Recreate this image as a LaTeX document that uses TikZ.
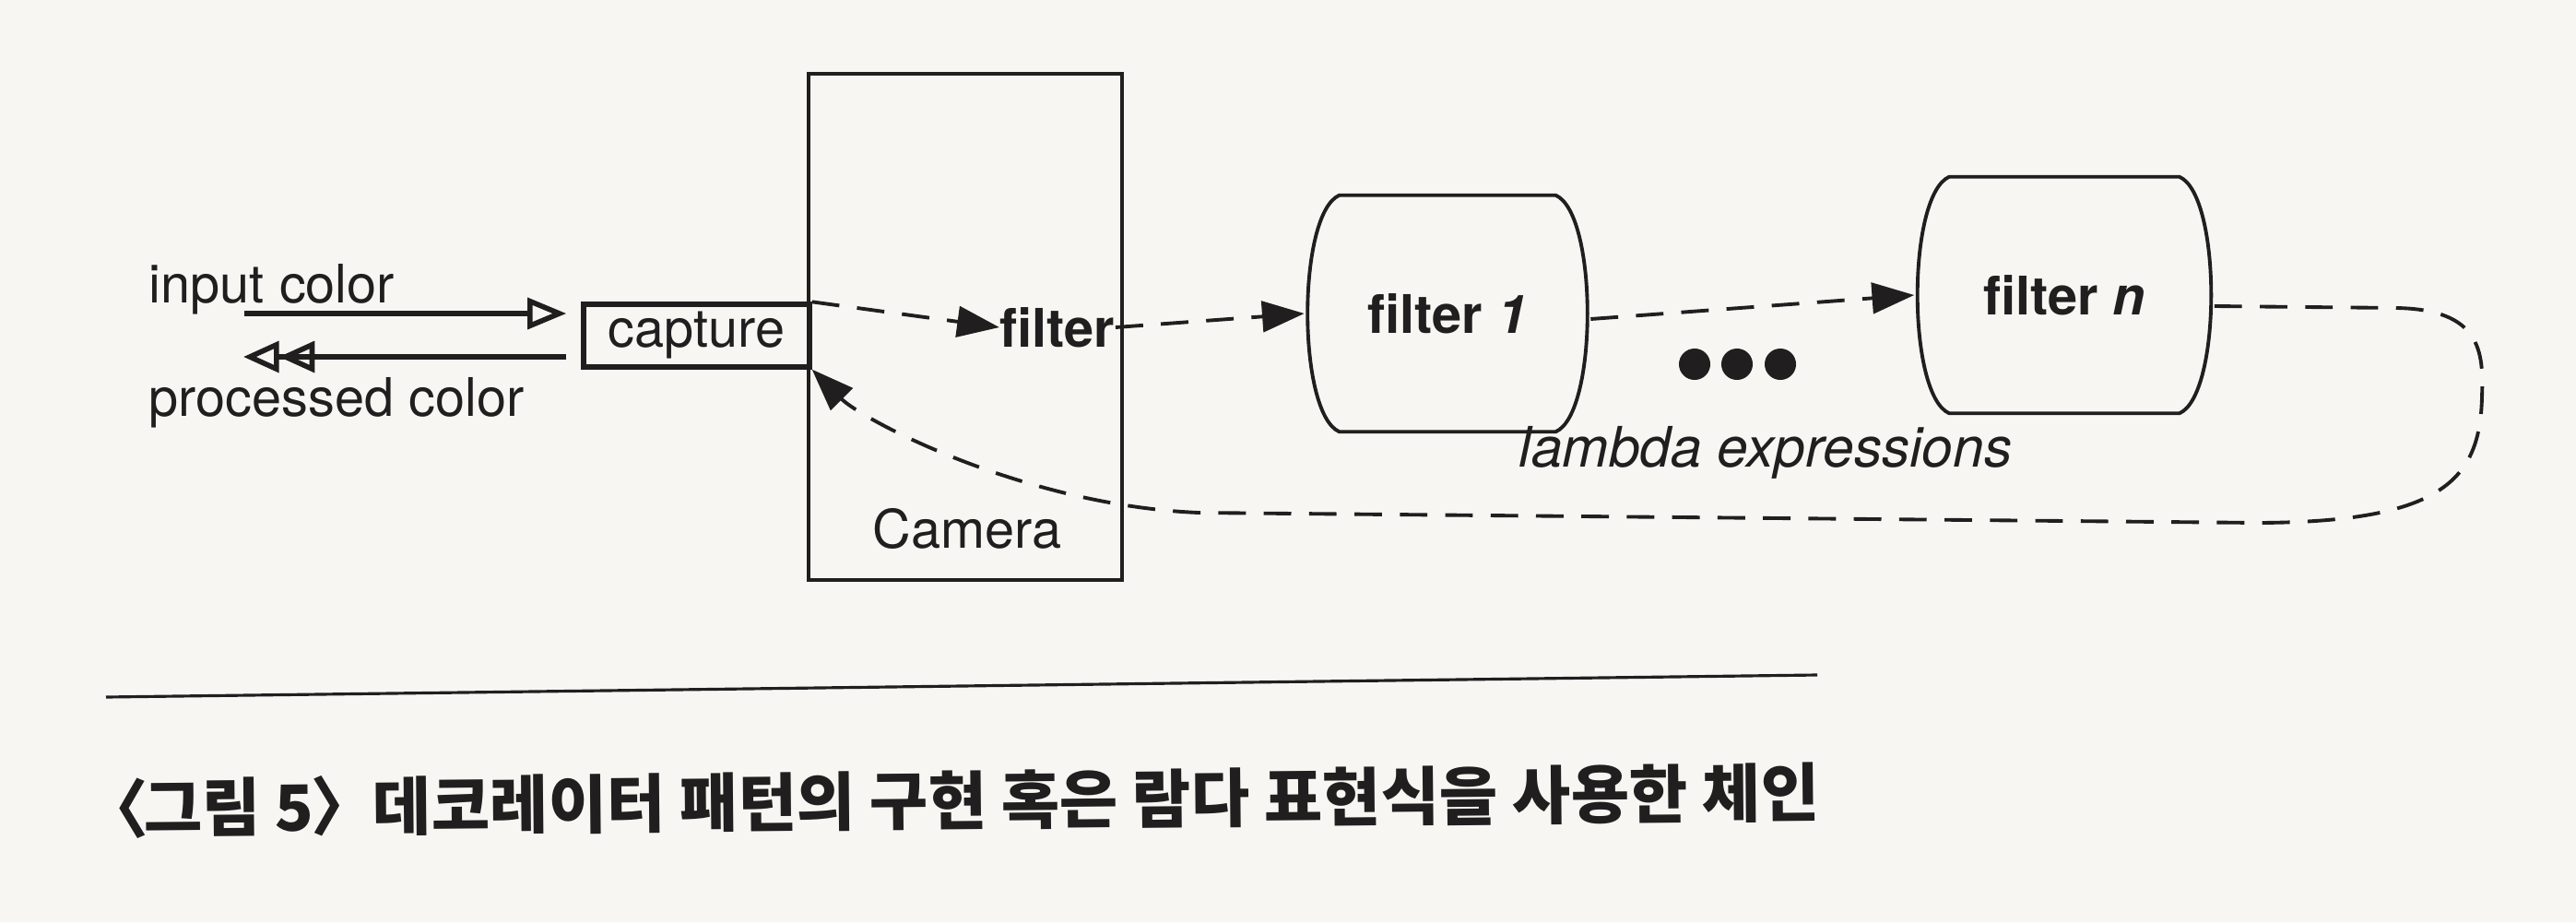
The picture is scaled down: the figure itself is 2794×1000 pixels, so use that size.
\documentclass[tikz,border=0pt]{standalone}
\usepackage{fontspec}
\setmainfont{TeX Gyre Heros}
\newfontfamily\cjk{Noto Sans CJK KR}
\usetikzlibrary{arrows.meta,calc}
\definecolor{paper}{RGB}{248,246,242}
\definecolor{ink}{RGB}{32,30,30}
\tikzset{
  lbl/.style={font=\fontsize{16.4}{19}\selectfont, text=ink, inner sep=0pt},
  boldlbl/.style={font=\fontsize{16.4}{19}\selectfont\bfseries, text=ink, inner sep=0pt},
  box/.style={draw=ink, line width=1.1pt},
  holder/.style={inner sep=0pt, font=\fontsize{16.4}{19}\selectfont\bfseries, text=ink},
  dasharrow/.style={draw=ink, line width=1.1pt, dash pattern=on 8.5pt off 5.5pt,
    -{Triangle[length=13pt,width=9.5pt]}},
  openarrow/.style={draw=ink, line width=1.6pt, -{Triangle[open,length=12pt,width=9.5pt]}},
  dblarrow/.style={draw=ink, line width=1.6pt,
    -{Triangle[open,length=11pt,width=9.5pt]Triangle[open,length=11pt,width=9.5pt]}},
  dot/.style={circle, fill=ink, minimum size=0.34cm, inner sep=0pt},
}
\newcommand\drawbarrel[1]{%
  \draw[box] ($(#1.north west)+(38,0)$) -- ($(#1.north east)+(-38,0)$)
    .. controls ($(#1.north east)+(8,20)$) and ($(#1.south east)+(8,-20)$) .. ($(#1.south east)+(-38,0)$)
    -- ($(#1.south west)+(38,0)$)
    .. controls ($(#1.south west)+(-8,-20)$) and ($(#1.north west)+(-8,20)$) .. cycle;}
\begin{document}
\begin{tikzpicture}[x=0.01cm,y=-0.01cm]
  \fill[paper] (0,0) rectangle (2794,1000);
  \useasboundingbox (0,0) rectangle (2794,1000);

  % camera
  \node[box, minimum width=3.40cm, minimum height=5.49cm, inner sep=0pt] (cam) at (1047,354.5) {};
  \node[lbl] (camlbl) at (1049,573) {Camera};
  \node[box, line width=1.5pt, minimum width=2.45cm, minimum height=0.68cm, inner sep=0pt, lbl] (cap) at (755.5,364) {capture};
  \node[boldlbl, anchor=east] (filt) at (1210,355) {filter};

  % input / output
  \node[lbl, anchor=west] (inp) at (161,314) {input color};
  \node[lbl, anchor=west] (proc) at (161,437) {processed color};
  \coordinate (inS) at (265,340);
  \coordinate (prE) at (264,387);
  \draw[openarrow, shorten >=0.16cm] (inS) -- (inS -| cap.west);
  \draw[dblarrow, shorten <=0.16cm] (prE -| cap.west) -- (prE);

  % filters
  \node[holder, minimum width=3.09cm, minimum height=2.55cm] (f1) at (1570,340) {filter \textit{1}};
  \node[holder, minimum width=3.24cm, minimum height=2.55cm] (fn) at (2239,320) {filter \textit{n}};
  \drawbarrel{f1}
  \drawbarrel{fn}

  \node[dot] (d1) at (1838,395) {};
  \node[dot] (d2) at (1884,395) {};
  \node[dot] (d3) at (1931,395) {};
  \node[lbl, font=\fontsize{17.2}{20}\selectfont\itshape] (lam) at (1915,491) {lambda expressions};

  % connectors
  \draw[dasharrow] (cap.north east) -- (filt.west);
  \draw[dasharrow] (filt.east) -- (f1.west);
  \draw[dasharrow] ([yshift=-0.06cm]f1.east) -- (fn.west);
  \draw[dasharrow] ([yshift=-0.12cm]fn.east) -- (2600,334)
     .. controls (2690,336) and (2694,380) .. (2692,430)
     .. controls (2690,520) and (2650,566) .. (2450,567)
     -- (1300,556)
     .. controls (1110,548) and (935,455) .. (cap.south east);

  % rule and caption
  \draw[draw=ink, line width=0.9pt] (115,756) -- (1971,732);
  \node[anchor=west, inner sep=0pt, text=ink, rotate=0.55,
        font=\cjk\bfseries\fontsize{19.6}{23}\selectfont] (cap2) at (92,877)
        {〈\hspace{-0.08em}그림 5\hspace{-0.05em}〉\hspace{-0.25em} 데코레이터 패턴의 구현 혹은 람다 표현식을 사용한 체인};
\end{tikzpicture}
\end{document}
